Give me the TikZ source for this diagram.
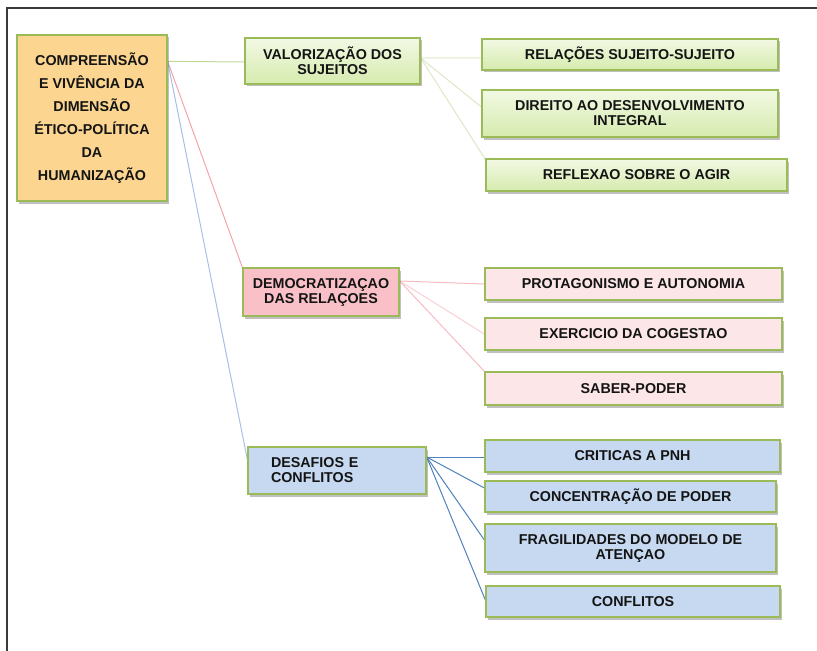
\documentclass[tikz,border=0pt]{standalone}
\usepackage{fontspec}
\setmainfont{Liberation Sans}
\usetikzlibrary{shadows,calc,backgrounds}
\definecolor{bord}{HTML}{9BBB59}
\definecolor{gtop}{HTML}{F2F9E4}
\definecolor{gbot}{HTML}{D6EBAE}
\definecolor{rootfill}{HTML}{FCD690}
\definecolor{demofill}{HTML}{F9C1C7}
\definecolor{pinkfill}{HTML}{FDE6E8}
\definecolor{bluefill}{HTML}{C6D9F1}
\definecolor{lgreen}{HTML}{C3D69B}
\definecolor{llgreen}{HTML}{DCE8C4}
\definecolor{lred}{HTML}{F4A3AB}
\definecolor{lpink}{HTML}{F7BCC2}
\definecolor{lblue}{HTML}{A7BFE6}
\definecolor{mblue}{HTML}{4F81BD}
\definecolor{frame}{HTML}{3A3A3A}
\tikzset{
  box/.style={draw=bord, line width=1.3bp, align=center, inner sep=0pt,
    font=\fontsize{14.3bp}{15bp}\selectfont\bfseries, text=black!92,
    drop shadow={shadow xshift=2bp, shadow yshift=-2.5bp, fill=black!55, opacity=0.45}},
  greenbox/.style={box, top color=gtop, bottom color=gbot},
  rootbox/.style={box, fill=rootfill, font=\fontsize{14.3bp}{23bp}\selectfont\bfseries},
  demobox/.style={box, fill=demofill},
  pinkbox/.style={box, fill=pinkfill},
  bluebox/.style={box, fill=bluefill},
  link/.style={line width=1bp},
}
\begin{document}
\begin{tikzpicture}[x=1bp,y=-1bp]
\useasboundingbox (0,0) rectangle (817,651);
% frame
\draw[frame, line width=1.6bp] (7,651) -- (7,8) -- (817,8);

% nodes
\node[rootbox, minimum width=150bp, minimum height=166bp] (root) at (92,118)
  {COMPREENSÃO\\E VIVÊNCIA DA\\DIMENSÃO\\ÉTICO-POLÍTICA\\DA\\HUMANIZAÇÃO};

\node[greenbox, minimum width=175bp, minimum height=46bp] (V) at (332.5,61)
  {VALORIZAÇÃO DOS\\SUJEITOS};
\node[greenbox, minimum width=296bp, minimum height=31bp] (R1) at (630,54.5)
  {RELAÇÕES SUJEITO-SUJEITO};
\node[greenbox, minimum width=296bp, minimum height=47bp] (R2) at (630,113.5)
  {DIREITO AO DESENVOLVIMENTO\\INTEGRAL};
\node[greenbox, minimum width=301bp, minimum height=32bp] (R3) at (636.5,175)
  {REFLEXAO SOBRE O AGIR};

\node[demobox, minimum width=156bp, minimum height=48bp] (D) at (321,292)
  {DEMOCRATIZAÇAO\\DAS RELAÇOES};
\node[pinkbox, minimum width=297bp, minimum height=32bp] (P1) at (633.5,284)
  {PROTAGONISMO E AUTONOMIA};
\node[pinkbox, minimum width=297bp, minimum height=32bp] (P2) at (633.5,334)
  {EXERCICIO DA COGESTAO};
\node[pinkbox, minimum width=297bp, minimum height=33bp] (P3) at (633.5,388.5)
  {SABER-PODER};

\node[bluebox, align=left, text width=132bp, inner xsep=23bp, minimum height=47bp] (B) at (337,470.5)
  {DESAFIOS E\\CONFLITOS};
\node[bluebox, minimum width=295bp, minimum height=32bp] (C1) at (632.5,456)
  {CRITICAS A PNH};
\node[bluebox, minimum width=291bp, minimum height=31bp] (C2) at (630.5,496.5)
  {CONCENTRAÇÃO DE PODER};
\node[bluebox, minimum width=291bp, minimum height=48bp] (C3) at (630.5,548)
  {FRAGILIDADES DO MODELO DE\\ATENÇAO};
\node[bluebox, minimum width=294bp, minimum height=31bp] (C4) at (633,601.5)
  {CONFLITOS};

% connectors
\begin{scope}[on background layer]
\coordinate (rootout) at ($(root.north east)+(0,27)$);
\draw[link, lgreen] (rootout) -- ($(V.west)+(0,1)$);
\draw[link, lred] (rootout) -- (D.north west);
\draw[link, lblue] (rootout) -- ($(B.north west)+(0,13)$);

\coordinate (vout) at ($(V.east)+(0,-3)$);
\draw[link, llgreen] (vout) -- ($(R1.west)+(0,3.5)$);
\draw[link, llgreen] (vout) -- ($(R2.west)+(0,-6.5)$);
\draw[link, llgreen] (vout) -- ($(R3.north west)+(0,1)$);

\coordinate (dout) at ($(D.east)+(0,-11)$);
\draw[link, lpink] (dout) -- (P1.west);
\draw[link, lpink!70] (dout) -- (P2.west);
\draw[link, lpink] (dout) -- (P3.north west);

\coordinate (bout) at ($(B.east)+(0,-13.5)$);
\draw[link, mblue] (bout) -- ($(C1.west)+(0,1)$);
\draw[link, mblue] (bout) -- ($(C2.west)+(0,-8.5)$);
\draw[link, mblue] (bout) -- ($(C3.west)+(0,-8)$);
\draw[link, mblue] (bout) -- ($(C4.west)+(0,-1.5)$);
\end{scope}
\end{tikzpicture}
\end{document}
